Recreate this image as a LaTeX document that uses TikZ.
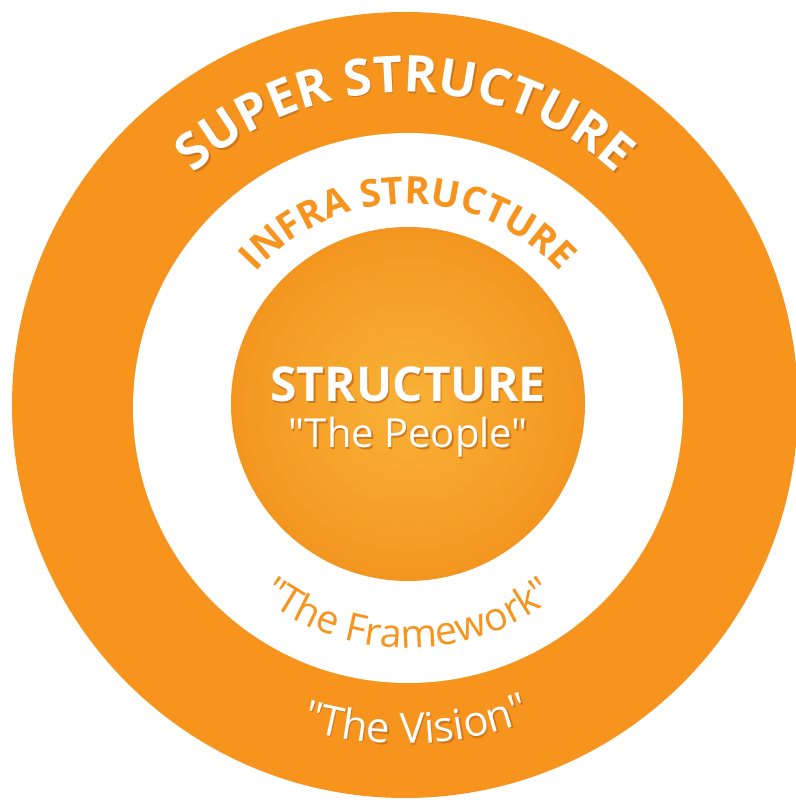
\documentclass[tikz,border=0pt]{standalone}
\usepackage{fontspec}
\setmainfont{Open Sans}[Ligatures=TeXOff]
\usetikzlibrary{decorations.text}

\definecolor{ringorange}{HTML}{F7941E}
\definecolor{coredark}{HTML}{F39620}
\definecolor{corelight}{HTML}{F9B236}
\definecolor{glow}{HTML}{CF751B}
\newcommand{\ringfont}[1]{\fontsize{#1}{#1}\selectfont}

\begin{document}
\begin{tikzpicture}[x=0.75pt,y=0.75pt,
    ringtext/.style={decorate,decoration={text along path,text align=center,#1}},
    coretext/.style={anchor=base,inner sep=0pt,text=white}]
  \useasboundingbox (-405,-397) rectangle (390,405);
  % three rings
  \fill[ringorange] (0,0) circle (393);
  \fill[white] (3,-3) circle (275);
  \shade[inner color=corelight,outer color=coredark] (3,1) circle (177);
  % outer ring: white letters with a dark glow
  \path[shift={(1.5,-1.5)},ringtext={text color=glow,text={|\bfseries\ringfont{38pt}|SUPER STRUCTURE}}]
    (-313,0) arc[start angle=180,end angle=0,radius=313];
  \path[ringtext={text color=white,text={|\bfseries\ringfont{38pt}|SUPER STRUCTURE}}]
    (-313,0) arc[start angle=180,end angle=0,radius=313];
  \path[shift={(1.5,-1.5)},ringtext={text color=glow,text={|\ringfont{31.5pt}|"The Vision"}}]
    (-351,0) arc[start angle=182,end angle=362,radius=351];
  \path[ringtext={text color=white,text={|\ringfont{31.5pt}|"The Vision"}}]
    (-351,0) arc[start angle=182,end angle=362,radius=351];
  % middle ring
  \path[ringtext={text color=ringorange,text={|\bfseries\ringfont{28.5pt}|INFRA STRUCTURE}}]
    (-201,-3) arc[start angle=180,end angle=0,radius=204];
  \path[ringtext={text color=ringorange,text={|\ringfont{29.5pt}|"The Framework"}}]
    (-237,-3) arc[start angle=180,end angle=360,radius=240];
  % core
  \node[coretext,text=glow,font=\bfseries\ringfont{36pt}] (coreglow) at (4.5,1.5) {STRUCTURE};
  \node[coretext,font=\bfseries\ringfont{36pt}] (core) at (3,3) {STRUCTURE};
  \node[coretext,text=glow,font=\ringfont{30pt}] (peopleglow) at (4.5,-44.5) {"The People"};
  \node[coretext,font=\ringfont{30pt}] (people) at (3,-43) {"The People"};
\end{tikzpicture}
\end{document}
